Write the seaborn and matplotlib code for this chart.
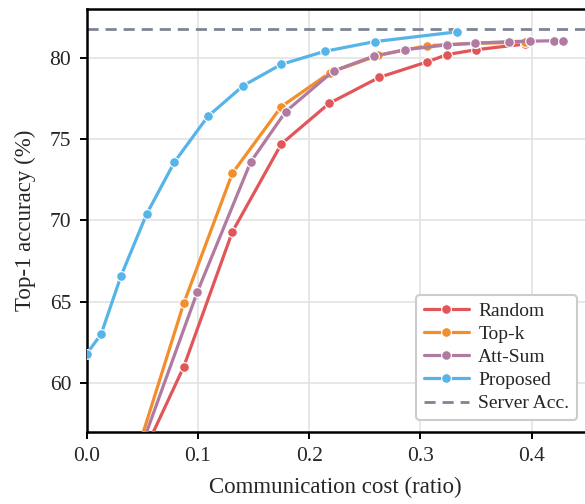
import pandas as pd
import matplotlib.pyplot as plt
import seaborn as sns

sns.set_theme(style="ticks")
plt.rcParams["font.family"] = ["Liberation Serif", "DejaVu Serif"]

OUTPUT = "out.png"

# values
random_x = [0.0437, 0.0873, 0.131, 0.175, 0.218, 0.263, 0.306, 0.324, 0.350, 0.394]
random_y = [54.6, 61.0, 69.3, 74.7, 77.2, 78.8, 79.75, 80.2, 80.5, 80.85]

topk_x = [0.0437, 0.0873, 0.131, 0.175, 0.219, 0.262, 0.306, 0.350, 0.394]
topk_y = [55.4, 64.9, 72.9, 77.0, 79.1, 80.15, 80.75, 80.9, 80.95]

attsum_x = [0.045, 0.0995, 0.1475, 0.179, 0.222, 0.258, 0.286, 0.324, 0.349, 0.380, 0.399, 0.420, 0.428]
attsum_y = [55.3, 65.6, 73.6, 76.7, 79.2, 80.1, 80.5, 80.8, 80.9, 81.0, 81.03, 81.05, 81.05]

proposed_x = [0.0, 0.013, 0.031, 0.054, 0.079, 0.109, 0.141, 0.175, 0.214, 0.259, 0.333]
proposed_y = [61.8, 63.0, 66.6, 70.4, 73.6, 76.4, 78.3, 79.6, 80.4, 81.0, 81.6]

SERVER_ACC = 81.8

SERIES = [
    ("Random", random_x, random_y, "#E15759"),
    ("Top-k", topk_x, topk_y, "#F28E2B"),
    ("Att-Sum", attsum_x, attsum_y, "#B07AA1"),
    ("Proposed", proposed_x, proposed_y, "#56B4E9"),
]


def main():
    fig = plt.figure(figsize=(5.85, 5.04), dpi=100)
    ax = fig.add_axes([0.148, 0.143, 0.852, 0.839])

    for name, xs, ys, color in SERIES:
        df = pd.DataFrame({"cost": xs, "acc": ys})
        sns.lineplot(data=df, x="cost", y="acc", ax=ax, color=color, label=name,
                     marker="o", markersize=7, markeredgecolor="white",
                     markeredgewidth=0.8, linewidth=2.3, zorder=3)

    ax.axhline(SERVER_ACC, color="#7F8493", linestyle="--", linewidth=2,
               dashes=(4, 2.5), label="Server Acc.", zorder=2)

    ax.set_xlim(0, 0.448)
    ax.set_ylim(57, 83)
    ax.set_xticks([0.0, 0.1, 0.2, 0.3, 0.4])
    ax.set_yticks([60, 65, 70, 75, 80])
    ax.tick_params(labelsize=15.5, length=5, width=1.4, color="black", pad=6)

    ax.set_xlabel("Communication cost (ratio)", fontsize=16.5, labelpad=8)
    ax.set_ylabel("Top-1 accuracy (%)", fontsize=16.5, labelpad=10)
    ax.grid(True, color="#e3e3e3", linewidth=1.2)
    ax.set_axisbelow(True)

    for side in ["left", "bottom", "top"]:
        ax.spines[side].set_linewidth(1.8)
        ax.spines[side].set_color("black")
    ax.spines["right"].set_visible(False)

    leg = ax.legend(loc="lower right", bbox_to_anchor=(0.984, 0.028), borderaxespad=0,
                    fontsize=14, frameon=True, edgecolor="#cccccc", framealpha=1,
                    handlelength=2.3, handletextpad=0.5, labelspacing=0.28,
                    borderpad=0.4)
    leg.get_frame().set_linewidth(1.5)

    plt.savefig(OUTPUT, dpi=100, facecolor="white")
    plt.close()


if __name__ == "__main__":
    main()
